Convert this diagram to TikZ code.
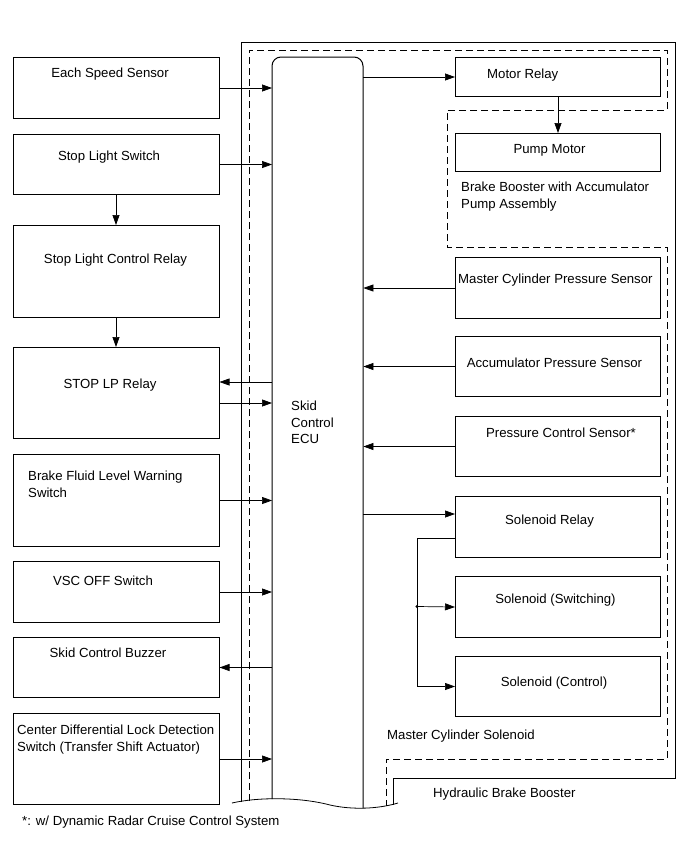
\documentclass[tikz,border=0pt]{standalone}
\usepackage{fontspec}
\setmainfont{Liberation Sans}
\usetikzlibrary{arrows.meta}
\begin{document}
\begin{tikzpicture}[x=1pt,y=-1pt,
  bx/.style={draw, line width=1pt, inner sep=0pt, anchor=north west},
  lbox/.style={bx, minimum width=206pt},
  rbox/.style={bx, minimum width=205pt},
  txt/.style={inner sep=0pt, font=\fontsize{13.2}{16.5}\selectfont},
  mtxt/.style={txt, align=left, anchor=north west},
  conn/.style={line width=0.7pt, -{Triangle[length=10pt,width=7pt]}},
  wire/.style={line width=0.7pt},
  frame/.style={line width=1pt},
  dframe/.style={line width=1pt, dash pattern=on 7pt off 4pt}
]
\useasboundingbox (0,0) rectangle (691,855);

% boundaries
\draw[frame] (241,802) -- (241,42) -- (675,42) -- (675,778) -- (393,778) -- (393,805);
\draw[dframe] (249,801) -- (249,50) -- (667,50) -- (667,110) -- (447,110) -- (447,247) -- (667,247) -- (667,759) -- (386,759) -- (386,806);

% ECU
\node[minimum width=91pt, minimum height=742pt, inner sep=0pt, anchor=north west] (ecu) at (272,57) {};
\draw[frame, rounded corners=9pt] (272,799) -- (272,57) -- (363,57) -- (363,808);
\draw[line width=0.8pt] (232,803) .. controls (258,797) and (300,797) .. (330,805) .. controls (352,810) and (378,809) .. (398,803);
\node[mtxt] (tecu) at (291,401) {Skid\\Control\\ECU};

% left boxes
\node[lbox, minimum height=61pt] (b1) at (12.5,57) {};
\node[lbox, minimum height=60pt] (b2) at (12.5,134) {};
\node[lbox, minimum height=92pt] (b3) at (12.5,225) {};
\node[lbox, minimum height=91pt] (b4) at (12.5,347) {};
\node[lbox, minimum height=92pt] (b5) at (12.5,454) {};
\node[lbox, minimum height=61pt] (b6) at (12.5,561) {};
\node[lbox, minimum height=60pt] (b7) at (12.5,637) {};
\node[lbox, minimum height=91pt] (b8) at (12.5,713) {};

\node[txt, anchor=base] (t1) at (110,77.7) {Each Speed Sensor};
\node[txt, anchor=base] (t2) at (109,160.7) {Stop Light Switch};
\node[txt, anchor=base] (t3) at (115.5,263.7) {Stop Light Control Relay};
\node[txt, anchor=base] (t4) at (110,388.7) {STOP LP Relay};
\node[mtxt] (t5) at (28,471) {Brake Fluid Level Warning\\Switch};
\node[txt, anchor=base] (t6) at (103,585.7) {VSC OFF Switch};
\node[txt, anchor=base] (t7) at (108,657.7) {Skid Control Buzzer};
\node[mtxt] (t8) at (17,725) {Center Differential Lock Detection\\Switch (Transfer Shift Actuator)};

% right boxes
\node[rbox, minimum height=39pt] (r1) at (455,57) {};
\node[rbox, minimum height=38pt] (r2) at (455,133) {};
\node[rbox, minimum height=61pt] (r3) at (455,257) {};
\node[rbox, minimum height=60pt] (r4) at (455,336) {};
\node[rbox, minimum height=60pt] (r5) at (455,416) {};
\node[rbox, minimum height=61pt] (r6) at (455,496) {};
\node[rbox, minimum height=61pt] (r7) at (455,576) {};
\node[rbox, minimum height=60pt] (r8) at (455,656) {};

\node[txt, anchor=base west] (u1) at (487,78.7) {Motor Relay};
\node[txt, anchor=base] (u2) at (549.5,153.7) {Pump Motor};
\node[mtxt] (u2b) at (461,182) {Brake Booster with Accumulator\\Pump Assembly};
\node[txt, anchor=base west] (u3) at (458,283.7) {Master Cylinder Pressure Sensor};
\node[txt, anchor=base] (u4) at (554.5,367.7) {Accumulator Pressure Sensor};
\node[txt, anchor=base] (u5) at (561,437.7) {Pressure Control Sensor*};
\node[txt, anchor=base] (u6) at (549.5,524.7) {Solenoid Relay};
\node[txt, anchor=base] (u7) at (555.5,603.7) {Solenoid (Switching)};
\node[txt, anchor=base] (u8) at (554,686.7) {Solenoid (Control)};

\node[txt, anchor=base west] (l1) at (387,739.7) {Master Cylinder Solenoid};
\node[txt, anchor=base west] (l2) at (433,797.7) {Hydraulic Brake Booster};
\node[txt, anchor=base west] (l3) at (22,825.7) {*: w/ Dynamic Radar Cruise Control System};

% connectors left
\draw[conn] (b1.east) -- (ecu.west |- b1.east);
\draw[conn] (b2.east) -- (ecu.west |- b2.east);
\draw[conn] (b2.south) -- (b3.north);
\draw[conn] (b3.south) -- (b4.north);
\coordinate (c4a) at (0,382);
\coordinate (c4b) at (0,403);
\draw[conn] (ecu.west |- c4a) -- (b4.east |- c4a);
\draw[conn] (b4.east |- c4b) -- (ecu.west |- c4b);
\draw[conn] (b5.east) -- (ecu.west |- b5.east);
\draw[conn] (b6.east) -- (ecu.west |- b6.east);
\draw[conn] (ecu.west |- b7.east) -- (b7.east);
\draw[conn] (b8.east) -- (ecu.west |- b8.east);

% connectors right
\draw[conn] (ecu.east |- r1.west) -- (r1.west);
\draw[conn] (r1.south) -- (r2.north);
\draw[conn] (r3.west) -- (ecu.east |- r3.west);
\draw[conn] (r4.west) -- (ecu.east |- r4.west);
\draw[conn] (r5.west) -- (ecu.east |- r5.west);
\coordinate (c6a) at (0,514);
\draw[conn] (ecu.east |- c6a) -- (r6.west |- c6a);
\coordinate (s1) at (455,538);
\coordinate (j1) at (417,538);
\coordinate (j2) at (417,606.5);
\draw[wire] (s1) -- (j1) -- (j1 |- r8.west);
\draw[conn] (j1 |- r8.west) -- (r8.west);
\draw[conn] (j2) -- (r7.west);
\fill (j2) circle (1.6pt);
\end{tikzpicture}
\end{document}
